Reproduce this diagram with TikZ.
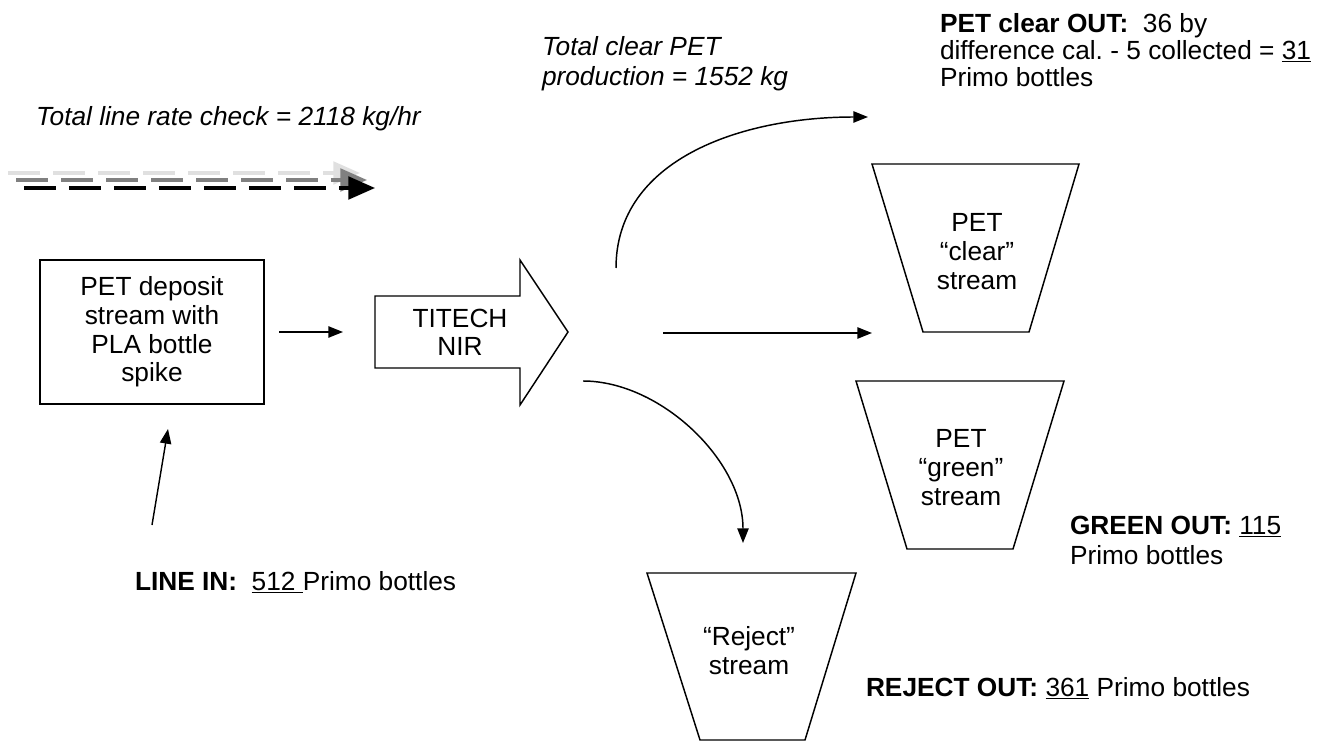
\documentclass[tikz,border=0pt]{standalone}
\usepackage{fontspec}
\setmainfont{Liberation Sans}
\usetikzlibrary{arrows.meta}
\frenchspacing
\tikzset{
  txt/.style={font=\fontsize{19.7}{21.75}\selectfont, inner sep=0pt, outer sep=0pt},
  conn/.style={line width=1.1pt, -{Triangle[length=11pt,width=8.5pt]}},
  shp/.style={line width=1.1pt, line join=miter},
  dsh/.style={line width=2.4pt, dash pattern=on 24pt off 9.75pt, -{Triangle[length=20pt,width=17pt]}}
}
\begin{document}
\begin{tikzpicture}[x=0.75pt,y=-0.75pt]
\useasboundingbox (0,0) rectangle (1333,741);

% shadowed dashed arrow
\coordinate (l1s) at (8,173);  \coordinate (l1e) at (360,173);
\coordinate (g1s) at (16,180); \coordinate (g1e) at (367,180);
\coordinate (b1s) at (24,188); \coordinate (b1e) at (375,188);
\draw[dsh, color=black!12] (l1s) -- (l1e);
\draw[dsh, color=black!50] (g1s) -- (g1e);
\draw[dsh, color=black] (b1s) -- (b1e);

\node[txt, font=\fontsize{19.7}{21.75}\selectfont\itshape, anchor=base west] (rate) at (36,126) {Total line rate check = 2118 kg/hr};

% input box
\node[txt, draw, shp, minimum width=168pt, minimum height=108pt, align=center,
      font=\fontsize{19.7}{21.5}\selectfont] (box) at (152,332) {PET deposit\\stream with\\PLA bottle\\spike};

% TITECH arrow shape
\draw[shp] (375,296) -- (520,296) -- (520,260) -- (568,332) -- (520,405) -- (520,368) -- (375,368) -- cycle;
\coordinate (tt) at (375,332);
\node[txt, align=center, font=\fontsize{19.7}{21}\selectfont] (titech) at (460,332) {TITECH\\NIR};
\draw[conn, shorten <=11.25pt, shorten >=24pt] (box.east) -- (tt);

% line in
\coordinate (lin) at (152,525);
\coordinate (linend) at (168,429);
\draw[conn] (lin) -- (linend);
\node[txt, anchor=base west] (linein) at (135,590) {\textbf{LINE IN:}\ \ \underline{512\ }Primo bottles};

% trapezoids
\draw[shp] (872,164) -- (1079,164) -- (1029,332) -- (923,332) -- cycle;
\node[txt, align=center] (clear) at (977,252) {PET\\``clear''\\stream};
\draw[shp] (856,381) -- (1064,381) -- (1013,549) -- (907,549) -- cycle;
\node[txt, align=center] (green) at (961,468) {PET\\``green''\\stream};
\draw[shp] (647,573) -- (856,573) -- (805,740) -- (700,740) -- cycle;
\node[txt, align=center, font=\fontsize{19.7}{21.75}\selectfont] (reject) at (749,651) {``Reject''\\stream};

% outputs from sorter
\coordinate (c1s) at (616,268); \coordinate (c1e) at (868,117);
\draw[conn] (c1s) .. controls (616,160) and (740,117) .. (c1e);
\coordinate (m1s) at (663,333); \coordinate (m1e) at (872,333);
\draw[conn] (m1s) -- (m1e);
\coordinate (r1s) at (583,381); \coordinate (r1e) at (743,543);
\draw[conn] (r1s) .. controls (660,381) and (743,460) .. (r1e);

% labels
\node[txt, align=left, anchor=north west, font=\fontsize{19.7}{22.5}\selectfont\itshape] (prod) at (542,36) {Total clear PET\\production = 1552 kg};
\node[txt, align=left, anchor=north west, font=\fontsize{19.7}{20.6}\selectfont] (clearout) at (940,13) {\textbf{PET clear OUT:}\ \ 36 by\\difference cal. - 5 collected = \underline{31}\\Primo bottles};
\node[txt, align=left, anchor=north west, font=\fontsize{19.7}{22.5}\selectfont] (greenout) at (1070,516) {\textbf{GREEN OUT:} \underline{115}\\Primo bottles};
\node[txt, anchor=base west] (rejectout) at (866,696) {\textbf{REJECT OUT:} \underline{361} Primo bottles};
\end{tikzpicture}
\end{document}
